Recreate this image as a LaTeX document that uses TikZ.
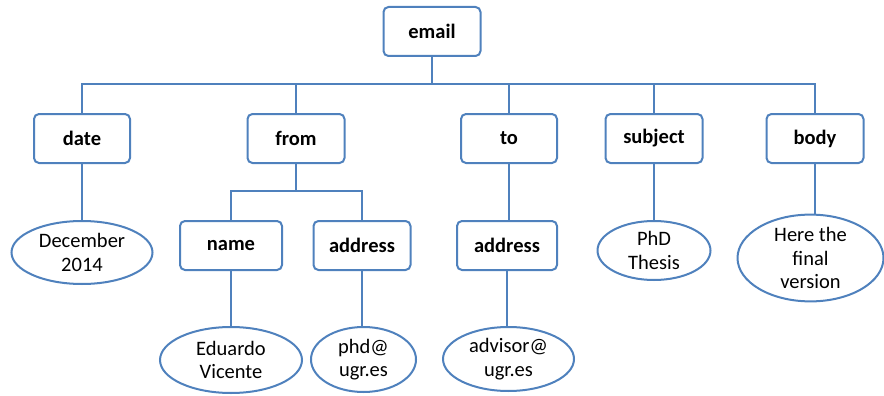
\documentclass[tikz,border=0pt]{standalone}
\usepackage{fontspec}
\setmainfont{Carlito}
\usetikzlibrary{shapes.geometric}
\definecolor{edgeblue}{RGB}{79,129,189}
\tikzset{
  field/.style={draw=edgeblue, line width=2pt, rounded corners=5pt, fill=white,
    minimum width=97pt, minimum height=49pt, inner sep=0pt,
    font=\fontsize{20.5}{24}\selectfont\bfseries},
  val/.style={draw=edgeblue, line width=2pt, ellipse, fill=white, inner sep=0pt,
    align=center, font=\fontsize{20.5}{23.5}\selectfont},
  link/.style={draw=edgeblue, line width=2pt}
}
\begin{document}
\begin{tikzpicture}[x=1pt,y=-1pt]
\useasboundingbox (0,0) rectangle (884,396);
% top-level record
\node[field] (email) at (432,31.5) {email};
% fields
\node[field, minimum width=96pt] (date) at (82,138.5) {date};
\node[field] (from) at (296,138.5) {from};
\node[field, minimum width=96pt] (to) at (509,138.5) {to};
\node[field] (subject) at (654,138.5) {subject};
\node[field] (body) at (815,138.5) {body};
% sub-fields of from and to
\node[field, minimum width=102pt] (name) at (231,245.5) {name};
\node[field] (addrA) at (362,245.5) {address};
\node[field, minimum width=100pt] (addrB) at (507,245.5) {address};
% values
\node[val, minimum width=141pt, minimum height=63pt] (vdate) at (82,252.5) {December\\2014};
\node[val, minimum width=113pt, minimum height=59pt] (vsubj) at (654,250.5) {PhD\\Thesis};
\node[val, minimum width=146pt, minimum height=74pt] (vbody) at (810.5,258) {Here the\\final\\version};
\node[val, minimum width=142pt, minimum height=66pt] (vname) at (231,360) {Eduardo\\Vicente};
\node[val, minimum width=105pt, minimum height=65pt] (vaddrA) at (363.5,359.5) {phd@\\ugr.es};
\node[val, minimum width=131pt, minimum height=64pt] (vaddrB) at (508.5,359) {advisor@\\ugr.es};
% tree connectors
\coordinate (busTop) at (432,84);
\draw[link] (email.south) -- (busTop);
\foreach \f in {date,from,to,subject,body}
  \draw[link] (\f.north) |- (busTop);
\coordinate (busFrom) at (296,191);
\draw[link] (from.south) -- (busFrom);
\draw[link] (name.north) |- (busFrom);
\draw[link] (addrA.north) |- (busFrom);
\draw[link] (to.south) -- (addrB.north -| to.south);
\draw[link] (date.south) -- (date.south |- vdate.north);
\draw[link] (subject.south) -- (subject.south |- vsubj.north);
\draw[link] (body.south) -- (body.south |- vbody.north);
\draw[link] (name.south) -- (vname.north);
\draw[link] (addrA.south) -- (addrA.south |- vaddrA.north);
\draw[link] (addrB.south) -- (addrB.south |- vaddrB.north);
\end{tikzpicture}
\end{document}
